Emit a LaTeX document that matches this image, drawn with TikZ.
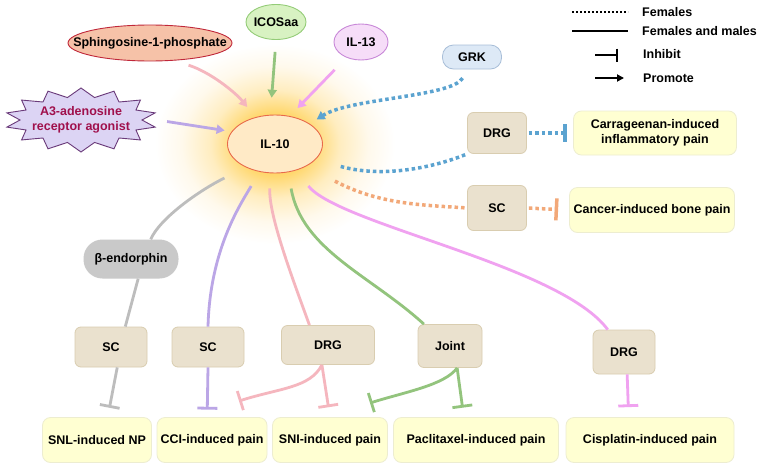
\documentclass[tikz,border=0pt]{standalone}
\usepackage{fontspec}
\setmainfont{Liberation Sans}
\usetikzlibrary{arrows.meta,shapes.geometric,calc}
\definecolor{glowA}{HTML}{FFC040}
\definecolor{glowB}{HTML}{FFD870}
\definecolor{glowC}{HTML}{FFEDC0}
\definecolor{glowD}{HTML}{FFF9EC}
\definecolor{sphfill}{HTML}{F6C2A8}
\definecolor{sphdraw}{HTML}{C0283A}
\definecolor{icosfill}{HTML}{D8F2C2}
\definecolor{icosdraw}{HTML}{94CC78}
\definecolor{ilxfill}{HTML}{F6DDF8}
\definecolor{ilxdraw}{HTML}{C888D8}
\definecolor{grkfill}{HTML}{DDE9F6}
\definecolor{grkdraw}{HTML}{A8BED8}
\definecolor{astfill}{HTML}{DCD4F4}
\definecolor{astdraw}{HTML}{6A3A7A}
\definecolor{asttext}{HTML}{A0104C}
\definecolor{ilfill}{HTML}{FFEAC6}
\definecolor{ildraw}{HTML}{E86A4A}
\definecolor{tanfill}{HTML}{EAE1CE}
\definecolor{tandraw}{HTML}{D9CDB0}
\definecolor{yelfill}{HTML}{FFFFD2}
\definecolor{yeldraw}{HTML}{EDEDD0}
\definecolor{betafill}{HTML}{C9C9C9}
\definecolor{cpink}{HTML}{F5B6BE}
\definecolor{cgreen}{HTML}{93C47D}
\definecolor{cviolet}{HTML}{F0A2F0}
\definecolor{cpurple}{HTML}{BBA6E6}
\definecolor{cgray}{HTML}{BDBDBD}
\definecolor{cblue}{HTML}{5BA3D0}
\definecolor{corange}{HTML}{F2A878}
\pgfdeclareradialshading{glowsh}{\pgfpointorigin}{color(0bp)=(glowA);color(8bp)=(glowB);color(13.5bp)=(glowC);color(19.5bp)=(glowD);color(25bp)=(white);color(50bp)=(white)}
\begin{document}
\begin{tikzpicture}[x=1pt,y=-1pt,font=\bfseries\fontsize{12.5}{15}\selectfont,
  ell/.style={ellipse,inner sep=0pt,line width=0.9pt},
  tanbox/.style={rectangle,rounded corners=6pt,fill=tanfill,draw=tandraw,line width=0.8pt,inner sep=1pt},
  ybox/.style={rectangle,rounded corners=8pt,fill=yelfill,draw=yeldraw,line width=0.8pt,inner sep=1pt,minimum height=45pt,align=center},
  conn/.style={line width=2.8pt},
  dots/.style={line width=3.5pt,dash pattern=on 3.5pt off 3pt},
  arr/.style={-{Triangle[length=8pt,width=9pt]}},
  inh/.style={-{Bar[width=20pt]}}]
\fill[white] (0,0) rectangle (765,471);
\useasboundingbox (0,0) rectangle (765,471);
% glow
\coordinate (c10) at (275,144);
\shade[shading=glowsh] (c10) ellipse (120 and 100);
% star
\draw[fill=astfill,draw=astdraw,line width=0.9pt] plot[samples at={0,...,27},variable=\k] ({81+(isodd(\k)?61:76)*cos(\k*360/28+90)},{120+(isodd(\k)?23:32)*sin(\k*360/28+90)}) -- cycle;
\node[text=asttext,align=center,minimum width=152pt,minimum height=64pt,inner sep=0pt] (a3) at (81,120) {A3-adenosine\\receptor agonist};
% top sources
\node[ell,fill=sphfill,draw=sphdraw,minimum width=164pt,minimum height=36pt] (sph) at (150,43) {\makebox[0pt]{Sphingosine-1-phosphate}};
\node[ell,fill=icosfill,draw=icosdraw,minimum width=60pt,minimum height=35pt] (icos) at (276,22) {\makebox[0pt]{ICOSaa}};
\node[ell,fill=ilxfill,draw=ilxdraw,minimum width=54pt,minimum height=36pt] (ilx) at (361,42) {\makebox[0pt]{IL-13}};
\node[rectangle,rounded corners=11pt,fill=grkfill,draw=grkdraw,line width=0.8pt,minimum width=59pt,minimum height=24pt,inner sep=0pt] (grk) at (472,57) {GRK};
\node[ell,fill=ilfill,draw=ildraw,minimum width=95pt,minimum height=58pt] (il10) at (c10) {IL-10};
% right column
\node[tanbox,minimum width=59pt,minimum height=41pt] (drgA) at (497,133) {DRG};
\node[tanbox,minimum width=59pt,minimum height=45pt] (scR) at (497,208) {SC};
\node[ybox,minimum width=163pt,minimum height=44pt] (carr) at (655,133) {Carrageenan-induced\\inflammatory pain};
\node[ybox,minimum width=165pt] (cancer) at (652,210) {Cancer-induced bone pain};
% middle row
\node[rectangle,rounded corners=19pt,fill=betafill,minimum width=95pt,minimum height=39pt,inner sep=0pt] (beta) at (131,259) {β-endorphin};
\node[tanbox,minimum width=72pt,minimum height=40pt] (scA) at (111,347) {SC};
\node[tanbox,minimum width=72pt,minimum height=40pt] (scB) at (208,347) {SC};
\node[tanbox,minimum width=93pt,minimum height=39pt] (drgB) at (328,345) {DRG};
\node[tanbox,minimum width=64pt,minimum height=43pt] (joint) at (450,346) {Joint};
\node[tanbox,minimum width=62pt,minimum height=44pt] (drgC) at (624,352) {DRG};
% bottom row
\node[ybox,minimum width=109pt] (snl) at (97,440) {SNL-induced NP};
\node[ybox,minimum width=110pt] (cci) at (212,440) {CCI-induced pain};
\node[ybox,minimum width=115pt] (sni) at (330,440) {SNI-induced pain};
\node[ybox,minimum width=165pt] (pac) at (476,440) {Paclitaxel-induced pain};
\node[ybox,minimum width=168pt] (cis) at (650,440) {Cisplatin-induced pain};
% legend
\coordinate (lda) at (572,12); \coordinate (ldb) at (628,12);
\coordinate (lsa) at (572,31); \coordinate (lsb) at (628,31);
\coordinate (lia) at (595,55); \coordinate (lib) at (618,55);
\coordinate (lpa) at (595,78); \coordinate (lpb) at (624,78);
\draw[line width=2.5pt,dash pattern=on 2pt off 2pt] (lda) -- (ldb);
\draw[line width=2.5pt] (lsa) -- (lsb);
\draw[line width=2.5pt,-{Bar[width=13pt]}] (lia) -- (lib);
\draw[line width=2.5pt,-{Triangle[length=7pt,width=7pt]}] (lpa) -- (lpb);
\node[anchor=west,inner sep=0pt] (lt1) at (642,12) {Females};
\node[anchor=west,inner sep=0pt] (lt2) at (642,31) {Females and males};
\node[anchor=west,inner sep=0pt] (lt3) at (643,54) {Inhibit};
\node[anchor=west,inner sep=0pt] (lt4) at (643,78) {Promote};
% incoming arrows
\draw[conn,cpink,arr,shorten <=15pt,shorten >=13pt] (sph.-36) .. controls (210,72) and (235,92) .. (il10.126);
\draw[conn,cgreen,arr,shorten <=12pt,shorten >=17pt] (icos.south) -- (il10.99);
\draw[conn,cviolet,arr,shorten <=17pt,shorten >=11pt] (ilx.227) -- (il10.62);
\draw[conn,cpurple,arr,shorten <=10pt,shorten >=7pt] (a3.east) -- (il10.164);
\draw[dots,cblue,arr,shorten <=10pt,shorten >=8pt] (grk.-110) .. controls (452,97) and (350,98) .. (il10.30);
% right connectors
\draw[dots,cblue,shorten <=26pt,shorten >=2pt] (il10.339) .. controls (390,180) and (445,163) .. (drgA.south west);
\draw[dots,cblue,-{Bar[width=18pt]},shorten <=2pt,shorten >=6.5pt] (drgA.east) -- (carr.west);
\draw[dots,corange,shorten <=32pt,shorten >=1pt] (il10.325) .. controls (380,205) and (425,205) .. (scR.west);
\draw[dots,corange,-{Bar[width=22pt]},shorten <=2pt,shorten >=11pt] (scR.east) -- (cancer.west);
% bottom connectors
\draw[conn,cgray,shorten <=24pt] (il10.219) .. controls (200,190) and (160,218) .. (beta.45);
\draw[conn,cgray] (beta.-70) -- (scA.55);
\draw[conn,cgray,inh,shorten >=9.5pt] (scA.-73) -- (snl.65);
\draw[conn,cpurple,shorten <=16.5pt] (il10.241) .. controls (240,205) and (210,250) .. (scB.north);
\draw[conn,cpurple,inh,shorten >=7.5pt] (scB.south) -- (cci.102);
\draw[conn,cpink,shorten <=15pt] (il10.262) .. controls (268,215) and (295,285) .. (drgB.133);
\draw[conn,cpink,inh,shorten >=10pt] (drgB.-107) -- (sni.north);
\coordinate (tcci) at (239,401);
\draw[conn,cpink,inh] (drgB.-107) .. controls (310,388) and (280,388) .. (tcci);
\draw[conn,cgreen,shorten <=16.5pt] (il10.295) .. controls (302,250) and (370,275) .. (joint.140);
\draw[conn,cgreen,inh,shorten >=9.5pt] (joint.-72) -- (pac.118);
\coordinate (tsni) at (370,403);
\draw[conn,cgreen,inh] (joint.-72) .. controls (445,385) and (405,392) .. (tsni);
\draw[conn,cviolet,shorten <=20pt] (il10.308) .. controls (340,225) and (560,265) .. (drgC.126);
\draw[conn,cviolet,inh,shorten >=10pt] (drgC.-82) -- (cis.133);
\end{tikzpicture}
\end{document}
